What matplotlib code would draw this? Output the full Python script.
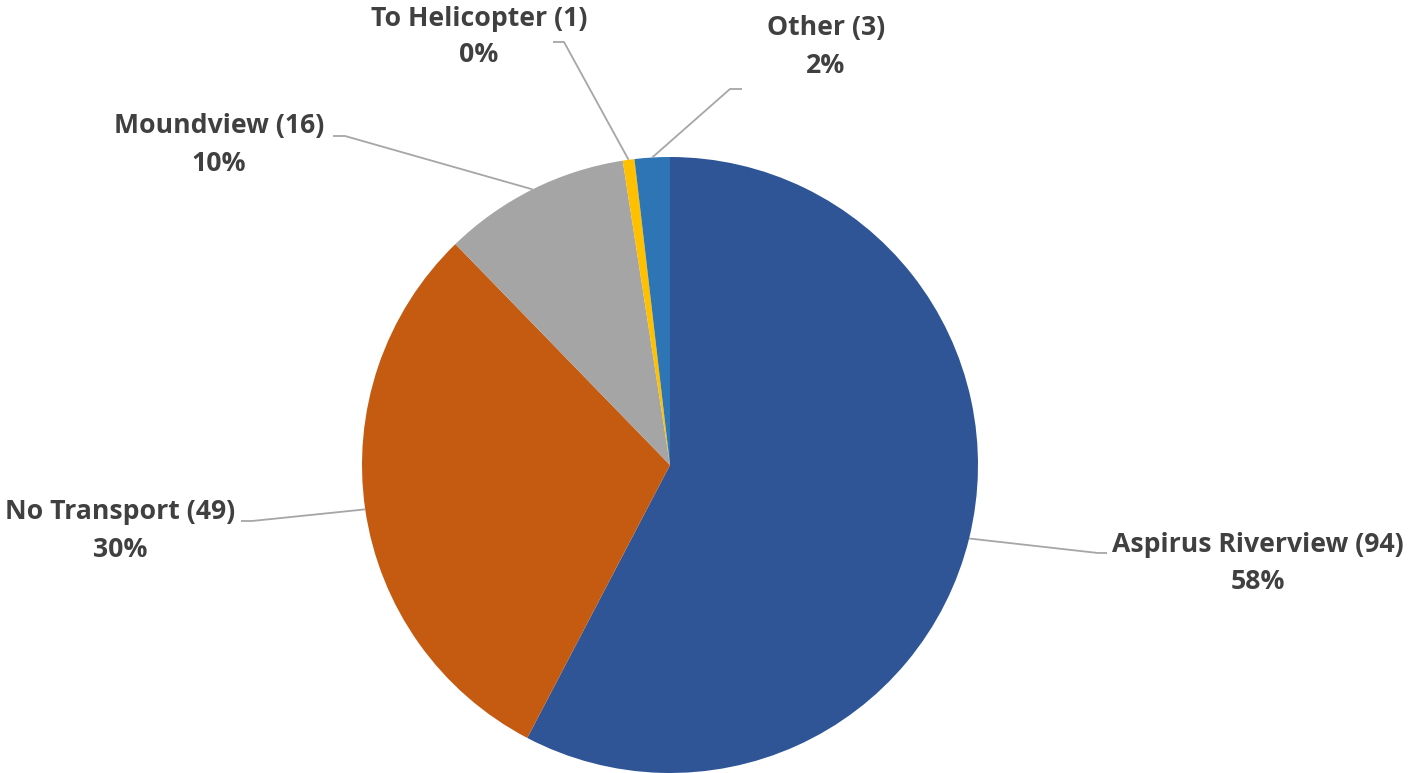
import matplotlib
matplotlib.use("Agg")
import numpy as np
import matplotlib.pyplot as plt

# slice data (clockwise from 12 o'clock)
names = ["Aspirus Riverview", "No Transport", "Moundview", "To Helicopter", "Other"]
counts = [94, 49, 16, 1, 3]
pct_labels = ["58%", "30%", "10%", "0%", "2%"]
colors = ["#2F5597", "#C55A11", "#A5A5A5", "#FFC000", "#2E75B6"]

W, H = 1410, 773
fig = plt.figure(figsize=(W / 100, H / 100), dpi=100)
ax = fig.add_axes([0, 0, 1, 1])

cx, cy, r = 670, H - 465, 308
wedges, _ = ax.pie(counts, colors=colors, startangle=90, counterclock=False,
                   center=(cx, cy), radius=r, wedgeprops=dict(linewidth=0))
ax.set_xlim(0, W)
ax.set_ylim(0, H)
ax.axis("off")

# label layout: (text x, line1 y, line2 y, elbow, end of horizontal tick) in pixels from top
layout = [
    (1258, 545, 582, (1098, 553), (1107, 553)),
    (120, 512, 550, (252, 521), (241, 521)),
    (219, 126, 164, (345, 136), (333, 136)),
    (479, 19, 55, (564, 42), (553, 42)),
    (826, 28, 66, (730, 89), (742, 89)),
]

txt = dict(fontsize=19.2, fontweight="bold", color="#404040",
           ha="center", va="center", family=["Open Sans", "DejaVu Sans"])
line_kw = dict(color="#A6A6A6", lw=1.3, solid_capstyle="butt")

for w, name, n, pct, (tx, y1, y2, elbow, end) in zip(wedges, names, counts, pct_labels, layout):
    mid = np.deg2rad((w.theta1 + w.theta2) / 2)
    ax_pt = (cx + r * np.cos(mid), cy + r * np.sin(mid))
    xs = [ax_pt[0], elbow[0], end[0]]
    ys = [ax_pt[1], H - elbow[1], H - end[1]]
    ax.plot(xs, ys, **line_kw)
    ax.text(tx, H - y1, f"{name} ({n})", **txt)
    ax.text(tx, H - y2, pct, **txt)

fig.savefig("out.png", dpi=100)
